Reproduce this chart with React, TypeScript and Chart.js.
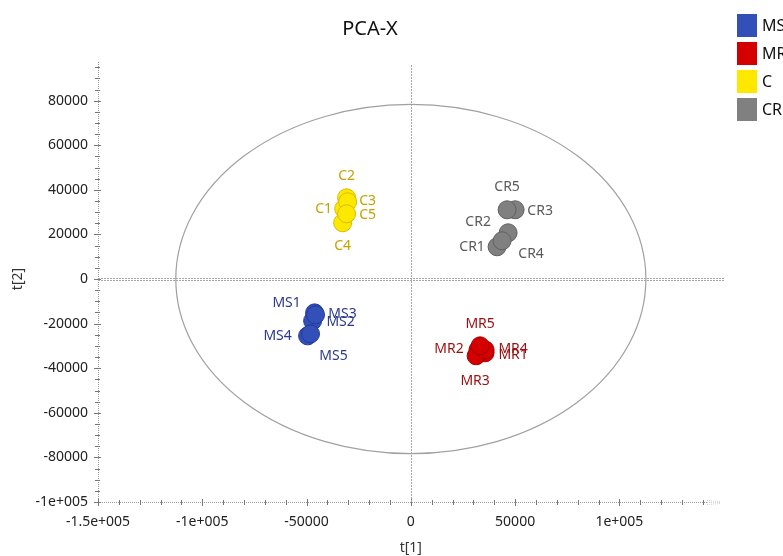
import React, { useEffect, useRef } from "react";
import { Chart, registerables } from "chart.js";

Chart.register(...registerables);

// ---- data ----
const seriesNames = ["MS", "MR", "C", "CR"];

const msLabels = ["MS1", "MS2", "MS3", "MS4", "MS5"];
const msX = [-46150, -47100, -45700, -49500, -48100];
const msY = [-15170, -18760, -16070, -25490, -24590];

const mrLabels = ["MR1", "MR2", "MR3", "MR4", "MR5"];
const mrX = [35600, 32200, 31300, 35600, 33200];
const mrY = [-33090, -31740, -34440, -31740, -29950];

const cLabels = ["C1", "C2", "C3", "C4", "C5"];
const cX = [-32200, -30800, -30300, -32700, -30800];
const cY = [31510, 36440, 34650, 25230, 29260];

const crLabels = ["CR1", "CR2", "CR3", "CR4", "CR5"];
const crX = [41350, 46640, 50000, 43750, 46150];
const crY = [14460, 20740, 31060, 17150, 31060];

const xTickValues = [-150000, -100000, -50000, 0, 50000, 100000];
const xTickLabels = ["-1.5e+005", "-1e+005", "-50000", "0", "50000", "1e+005"];
const yTickValues = [-100000, -80000, -60000, -40000, -20000, 0, 20000, 40000, 60000, 80000];
const yTickLabels = ["-1e+005", "-80000", "-60000", "-40000", "-20000", "0", "20000", "40000", "60000", "80000"];

// Hotelling T2 ellipse radii (data units)
const ellipseRx = 112700;
const ellipseRy = 78300;

// ---- styles ----
const fills = ["#3350B8", "#D40000", "#FFE800", "#808080"];
const borders = ["#22399A", "#A80000", "#D6BC00", "#606060"];
const labelColors = ["#2B3A8E", "#9A0E0E", "#C4A200", "#5A5A5A"];

// label offsets relative to each point (px), per series, per point
const msOff = [[-28, -10], [28, 1], [27, -1], [-30, 0], [23, 22]];
const mrOff = [[28, 2], [-29, -1], [-1, 25], [28, -1], [0, -22]];
const cOff = [[-20, 0], [0, -22], [20, -1], [0, 23], [21, 1]];
const crOff = [[-25, 0], [-30, -11], [25, 1], [29, 13], [0, -23]];

const FONT = "'Noto Sans', 'DejaVu Sans', sans-serif";

const allLabels = [msLabels, mrLabels, cLabels, crLabels];
const allOffsets = [msOff, mrOff, cOff, crOff];

const decorPlugin = {
  id: "decor",
  beforeDatasetsDraw(chart: any) {
    const { ctx, chartArea, scales } = chart;
    const xs = scales.x;
    const ys = scales.y;
    const x0 = xs.getPixelForValue(0);
    const y0 = ys.getPixelForValue(0);
    ctx.save();

    // axes (dotted)
    ctx.strokeStyle = "#9a9a9a";
    ctx.lineWidth = 1;
    ctx.setLineDash([1, 1]);
    ctx.beginPath();
    ctx.moveTo(chartArea.left + 0.5, chartArea.top - 3);
    ctx.lineTo(chartArea.left + 0.5, chartArea.bottom);
    ctx.moveTo(chartArea.left, chartArea.bottom + 0.5);
    ctx.lineTo(chartArea.right, chartArea.bottom + 0.5);
    ctx.stroke();

    // minor / major ticks
    ctx.setLineDash([]);
    ctx.strokeStyle = "#777";
    ctx.beginPath();
    for (let v = -150000; v <= xs.max; v += 10000) {
      const px = Math.round(xs.getPixelForValue(v)) + 0.5;
      const major = v % 50000 === 0;
      ctx.moveTo(px, chartArea.bottom - (major ? 3 : 2));
      ctx.lineTo(px, chartArea.bottom + (major ? 4 : 3));
    }
    for (let v = -100000; v <= ys.max; v += 5000) {
      const py = Math.round(ys.getPixelForValue(v)) + 0.5;
      const major = v % 20000 === 0;
      ctx.moveTo(chartArea.left - (major ? 4 : 3), py);
      ctx.lineTo(chartArea.left + (major ? 3 : 2), py);
    }
    ctx.stroke();

    // zero lines (double dotted)
    ctx.strokeStyle = "#a8a8a8";
    ctx.setLineDash([2, 1]);
    ctx.beginPath();
    const yz = Math.round(y0);
    ctx.moveTo(chartArea.left, yz - 1 + 0.5);
    ctx.lineTo(chartArea.right + 18, yz - 1 + 0.5);
    ctx.moveTo(chartArea.left, yz + 1 + 0.5);
    ctx.lineTo(chartArea.right + 18, yz + 1 + 0.5);
    const xz = Math.round(x0);
    ctx.moveTo(xz + 0.5, chartArea.top);
    ctx.lineTo(xz + 0.5, chartArea.bottom);
    ctx.stroke();

    // small arrow marker at the end of x axis
    ctx.strokeStyle = "#cfcfcf";
    ctx.setLineDash([1, 1]);
    ctx.beginPath();
    for (let k = -2; k <= 2; k += 2) {
      ctx.moveTo(chartArea.right, chartArea.bottom + 0.5 + k);
      ctx.lineTo(chartArea.right + 14, chartArea.bottom + 0.5 + k / 2);
    }
    ctx.stroke();

    // ellipse
    ctx.setLineDash([]);
    ctx.strokeStyle = "#a0a0a0";
    ctx.lineWidth = 1.2;
    const rx = xs.getPixelForValue(ellipseRx) - x0;
    const ry = y0 - ys.getPixelForValue(ellipseRy);
    ctx.beginPath();
    ctx.ellipse(x0, y0, rx, ry, 0, 0, Math.PI * 2);
    ctx.stroke();

    // title
    ctx.fillStyle = "#111";
    ctx.font = `20px ${FONT}`;
    ctx.textAlign = "center";
    ctx.textBaseline = "middle";
    ctx.fillText("PCA-X", 370, 29);

    // axis titles
    ctx.font = `14px ${FONT}`;
    ctx.fillStyle = "#333";
    ctx.fillText("t[1]", x0, 548);
    ctx.save();
    ctx.translate(18, y0);
    ctx.rotate(-Math.PI / 2);
    ctx.fillText("t[2]", 0, 0);
    ctx.restore();

    // legend
    const lx = 737;
    seriesNames.forEach((name, i) => {
      const ly = 14 + i * 28;
      ctx.fillStyle = fills[i];
      ctx.fillRect(lx, ly, 20, 23);
      ctx.fillStyle = "#111";
      ctx.font = `16px ${FONT}`;
      ctx.textAlign = "left";
      ctx.fillText(name, 762, ly + 12);
    });

    ctx.restore();
  },
  afterDatasetsDraw(chart: any) {
    const { ctx } = chart;
    ctx.save();
    ctx.font = `14px ${FONT}`;
    ctx.textAlign = "center";
    ctx.textBaseline = "middle";
    chart.data.datasets.forEach((ds: any, i: number) => {
      const meta = chart.getDatasetMeta(i);
      ctx.fillStyle = labelColors[i];
      meta.data.forEach((el: any, j: number) => {
        const off = allOffsets[i][j];
        ctx.fillText(allLabels[i][j], el.x + off[0], el.y + off[1]);
      });
    });
    ctx.restore();
  },
};

function toPoints(xs: number[], ys: number[]) {
  return xs.map((x, i) => ({ x, y: ys[i] }));
}

export default function App() {
  const ref = useRef<HTMLCanvasElement>(null);
  useEffect(() => {
    document.body.style.margin = "0";
    const canvas = ref.current!;
    const seriesX = [msX, mrX, cX, crX];
    const seriesY = [msY, mrY, cY, crY];
    const chart = new Chart(canvas, {
      type: "scatter",
      data: {
        datasets: seriesNames.map((name, i) => ({
          label: name,
          data: toPoints(seriesX[i], seriesY[i]),
          backgroundColor: fills[i],
          borderColor: borders[i],
          borderWidth: 1,
          pointRadius: 9,
          pointHoverRadius: 9,
        })),
      },
      options: {
        animation: false,
        responsive: false,
        devicePixelRatio: 1,
        layout: { padding: { top: 65, right: 76, left: 0, bottom: 0 } },
        plugins: {
          legend: { display: false },
          title: { display: false },
          tooltip: { enabled: false },
        },
        scales: {
          x: {
            type: "linear",
            min: -150000,
            max: 142000,
            grid: { display: false, drawTicks: false },
            border: { display: false },
            afterBuildTicks: (scale: any) => {
              scale.ticks = xTickValues.map((v) => ({ value: v }));
            },
            afterFit: (scale: any) => {
              scale.height = 54;
            },
            ticks: {
              padding: 12,
              color: "#222",
              font: { family: FONT, size: 14 },
              maxRotation: 0,
              autoSkip: false,
              callback: (v: any) => {
                const k = xTickValues.indexOf(Number(v));
                return k >= 0 ? xTickLabels[k] : "";
              },
            },
          },
          y: {
            type: "linear",
            min: -100000,
            max: 96000,
            grid: { display: false, drawTicks: false },
            border: { display: false },
            afterBuildTicks: (scale: any) => {
              scale.ticks = yTickValues.map((v) => ({ value: v }));
            },
            afterFit: (scale: any) => {
              scale.width = 98;
            },
            ticks: {
              padding: 10,
              color: "#222",
              font: { family: FONT, size: 14 },
              autoSkip: false,
              callback: (v: any) => {
                const k = yTickValues.indexOf(Number(v));
                return k >= 0 ? yTickLabels[k] : "";
              },
            },
          },
        },
      },
      plugins: [decorPlugin],
    });
    return () => chart.destroy();
  }, []);
  return (
    <div style={{ position: "absolute", left: 0, top: 0, width: 783, height: 556 }}>
      <canvas ref={ref} width={783} height={556} style={{ display: "block" }} />
    </div>
  );
}
